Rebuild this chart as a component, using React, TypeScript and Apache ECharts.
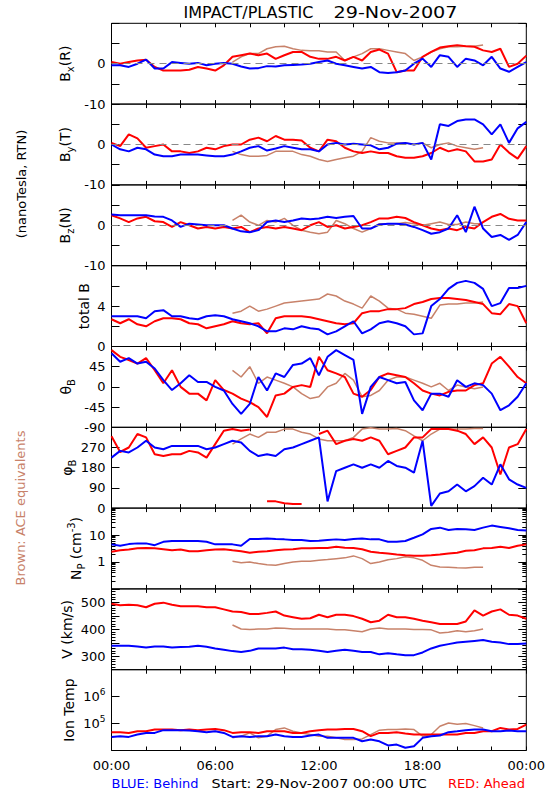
import React, { useEffect, useRef } from "react";
import * as echarts from "echarts";

const FONT = "DejaVu Sans";
const STEP = 0.5; // hours between samples
const ACE_START = 7; // hour at which ACE (brown) samples begin

const BLUE = "#0000ff";
const RED = "#ff0000";
const BROWN = "#c8826a";

const TIME_TICKS = [0, 6, 12, 18, 24];
const TIME_LABELS = ["00:00", "06:00", "12:00", "18:00", "00:00"];

// Bx(R)
const bxBlue = [-0.4,-0.4,-0.8,0,1.0,-1.2,-1.2,0.4,0.2,0,0.2,-0.4,0,0.2,0,-0.7,-1.2,-1.1,-0.6,-0.7,-0.4,-0.3,-0.2,0,0.4,0.8,0,-0.4,-0.8,-1.2,-0.8,-2.1,-2.3,-2.1,-1.7,0,1.25,-0.8,2.1,1.7,-0.8,1.25,0.8,-0.4,1.7,-1.2,-2.0,-0.8,0.4];
const bxRed = [0.4,0,0.4,0.8,1.0,-0.8,-1.7,-1.7,-1.7,-1.5,-0.8,-1.2,-1.7,-0.4,1.7,2.1,2.5,2.1,2.5,1.2,2.1,2.9,2.9,1.7,1.2,1.2,1.7,0.8,1.7,0.8,2.9,3.5,2.5,-2.1,-1.7,-1.7,1.7,2.9,4.0,4.3,4.6,4.3,4.2,3.3,2.9,3.7,-0.8,0,2.0];
const bxBrown = [0.4,1.7,2.5,2.5,3.7,4.2,4.3,3.7,3.3,3.2,3.2,2.9,2.9,0.8,1.7,2.5,3.7,3.7,3.3,2.9,2.5,0.8,1.7,2.9,3.7,4.2,4.2,4.3,4.3,4.6];

// By(T)
const byBlue = [0,-1.2,-1.7,-0.8,-1.2,-2.5,-2.9,-2.9,-2.5,-2.5,-2.5,-2.7,-2.9,-2.9,-2.5,-1.7,-0.8,-0.4,-1.5,-1.0,-0.4,-0.8,-1.2,-1.2,-1.7,0,0.4,0,0.2,0,-0.2,-1.2,-0.8,0.2,0.4,0,0.4,-3.7,5.0,4.6,5.8,6.2,6.2,5.0,2.5,5.0,0.4,4.0,5.6];
const byRed = [0.4,-0.4,2.5,1.5,-0.8,-0.4,0,-1.7,-1.7,-2.1,-1.7,-0.8,-1.2,-0.4,0,0,1.2,1.7,0.8,2.1,1.2,1.2,1.0,-0.8,-1.7,1.2,0.8,-0.8,-1.7,-2.1,-1.7,-2.1,-2.1,-2.9,-3.3,-3.3,-2.9,-2.1,-0.8,-1.7,-1.2,-1.7,-4.2,-4.2,-3.7,0,-2.0,-3.5,-0.4];
const byBrown = [-1.7,-2.5,-2.9,-2.9,-2.7,-1.7,-1.7,-1.7,-2.5,-2.9,-3.7,-4.2,-3.7,-3.3,-2.9,-1.7,1.7,0.8,0.4,0.4,0.4,0,0.4,-0.8,0,0.4,-0.4,-0.8,-1.2,-0.8];

// Bz(N)
const bzBlue = [2.7,2.5,2.5,2.5,2.5,2.2,2.1,1.2,-0.4,0.4,0.2,0,0,0,-0.8,-1.5,-1.7,-1.2,0.8,1.2,0.8,1.2,1.7,1.5,1.7,2.1,1.8,2.1,2.3,-0.8,-0.8,0.2,0.4,0.4,0.2,-0.4,-1.2,-2.1,-1.7,-0.8,2.5,-1.7,4.6,-0.8,-2.9,-2.4,-3.6,-2.4,0.8];
const bzRed = [2.5,1.7,0.8,1.7,2.1,1.0,0.8,-0.4,0.8,0,-0.8,-0.4,-0.8,-0.4,-0.8,-0.4,-1.7,-0.8,-0.4,-0.8,-0.4,-0.8,-1.2,0,0.8,-0.4,0,-0.8,-0.4,0,0.8,1.7,1.7,2.1,1.8,0.8,0,-0.8,-1.2,-0.8,-1.2,-0.4,-0.8,0.8,2.1,2.8,1.6,1.2,1.2];
const bzBrown = [1.2,2.5,0.8,0,1.2,0.8,1.7,0,-1.2,-1.7,-2.1,-1.7,1.2,0.4,-0.8,-1.7,-0.8,0.4,0.4,0.4,0.7,0.4,0,0.4,0.8,0.2,0.2,0.8,0.4,0.4];

// total B
const btBlue = [3.0,3.0,3.0,3.0,2.8,3.5,3.6,3.0,3.0,2.8,2.7,3.0,3.1,3.0,2.7,2.5,2.3,2.0,1.5,1.5,1.8,1.7,2.0,1.8,1.7,1.2,1.5,2.0,2.5,1.3,1.7,2.3,2.5,2.3,2.0,1.2,1.3,4.0,4.7,5.7,6.3,6.5,6.3,5.7,4.0,4.3,5.8,5.8,6.0];
const btRed = [2.7,2.3,2.7,2.2,2.0,2.5,2.8,2.8,2.7,2.3,2.2,1.8,2.0,2.2,2.5,2.3,2.2,2.3,1.3,2.8,3.0,3.0,3.0,2.9,2.7,2.5,2.3,2.2,2.3,3.3,3.5,3.5,3.7,3.7,3.8,4.2,4.4,4.7,4.8,4.8,4.7,4.6,4.4,4.2,3.3,3.2,4.2,4.0,2.3];
const btBrown = [3.3,3.5,4.0,3.5,3.7,4.0,4.3,4.4,4.5,4.6,4.7,5.2,5.0,4.5,4.2,3.8,5.0,4.5,3.8,3.7,3.3,3.2,3.0,2.8,4.1,4.2,4.2,4.3,4.3,4.4];

// theta B
const thBlue = [75,56,64,52,56,41,15,-7,8,26,11,11,0,-8,-38,-60,-38,22,-8,30,22,49,52,64,26,67,82,71,60,-60,0,22,15,8,11,-30,-52,-15,-15,-22,15,0,8,4,-15,-52,-41,-22,8];
const thRed = [82,67,60,52,64,37,8,37,0,-15,-15,-30,15,-7,-15,-26,-34,-45,-67,-19,-15,0,4,0,67,37,30,22,-15,-22,-7,22,30,26,22,8,-8,-15,-19,-11,-8,-8,4,8,52,67,45,22,8];
const thBrown = [37,22,45,8,22,15,8,0,-15,-26,-22,0,8,30,15,-22,-19,-8,15,22,22,15,8,0,8,-8,4,0,-4,0];

// phi B (null = gap where the angle wraps between 360 and 0)
const phBlue = [225,255,248,270,300,270,262,277,277,277,277,262,270,285,300,292,255,232,240,232,262,270,285,300,315,30,165,180,195,180,195,180,210,188,180,158,300,10,65,75,105,75,98,135,105,195,128,105,90];
const phRed = [320,250,270,330,315,240,232,240,240,255,248,225,285,345,352,345,350,null,30,30,22,18,18,null,330,345,285,300,308,300,315,300,240,255,270,315,315,352,352,352,345,330,285,315,270,150,270,285,352];
const phBrown = [285,308,330,315,338,338,352,352,338,330,308,300,300,300,315,352,358,352,352,355,345,322,300,330,352,352,352,352,355,355];

// Np (cm^-3)
const npBlue = [4.5,4.0,4.6,4.9,4.9,4.2,5.6,6.0,6.0,6.0,6.0,5.6,4.5,4.5,4.5,4.0,7.1,7.1,7.5,7.1,6.9,6.5,6.5,6.0,6.1,6.5,6.9,6.5,7.1,7.5,6.9,6.9,5.6,5.6,6.0,7.9,10.6,16.8,18.8,15.4,16.8,16.3,15.4,18.8,22.4,20,17.8,15.4,14.6];
const npRed = [2.4,2.7,2.9,3.2,3.3,3.2,2.95,2.7,2.9,2.5,2.5,2.7,2.9,2.95,2.7,2.5,2.2,2.4,2.5,2.7,2.9,2.95,3.2,3.2,3.3,3.3,3.65,3.4,3.3,2.95,2.4,2.2,2.05,1.9,1.78,1.7,1.7,1.78,1.9,2.05,2.2,2.6,2.7,3.2,3.3,3.65,3.3,4.0,4.5];
const npBrown = [1.06,0.94,1.0,0.87,0.79,0.75,0.87,1.0,1.06,1.06,1.15,1.23,1.33,1.42,1.68,1.33,0.87,1.0,1.2,1.33,1.55,1.42,1.15,0.75,0.65,0.63,0.61,0.6,0.63,0.63];

// V (km/s)
const vBlue = [339,339,339,336,332,336,336,332,334,335,339,335,329,324,319,316,320,329,329,329,332,326,326,324,320,316,320,324,320,316,316,307,311,307,304,304,314,329,339,345,351,354,357,360,354,351,345,345,347];
const vRed = [495,489,491,489,482,495,499,491,486,486,486,482,482,474,466,464,457,457,461,466,451,445,439,441,454,445,454,454,449,439,426,432,454,445,445,439,432,426,420,420,420,429,470,451,466,474,454,451,439];
const vBrown = [416,401,399,401,401,405,404,401,401,401,401,401,398,398,395,391,401,405,401,401,401,399,399,398,386,389,395,391,395,401];

// Ion temperature (K)
const tBlue = [32000,34000,32000,39000,45000,45000,57000,57000,57000,55000,52000,48000,52000,45000,32000,34000,32000,34000,34000,39000,34000,32000,32000,36000,39000,29500,29500,29500,29500,22000,25500,22000,15400,16600,12600,14400,29500,34000,36000,48000,52000,57000,60000,60000,52000,52000,55000,52000,52000];
const tRed = [48000,48000,45000,52000,52000,60000,60000,60000,57000,60000,57000,60000,63000,57000,45000,48000,48000,45000,52000,52000,52000,45000,45000,52000,57000,60000,60000,63000,63000,52000,34000,45000,45000,48000,43000,39000,39000,39000,39000,39000,39000,45000,45000,52000,52000,69000,60000,63000,92000];
const tBrown = [29500,34000,45000,29500,34000,60000,69000,52000,45000,39000,34000,34000,29500,25500,25500,27000,39000,57000,60000,60000,63000,60000,34000,39000,80000,105000,95000,100000,84000,69000];

// Layout
const PLOT_LEFT = 111.5;
const PLOT_W = 414.8;
const PLOT_TOP = 23.3;
const PANEL_H = 80.8;

const logMinor = (decades: number[]) => {
  const out: number[] = [];
  decades.forEach((d) => { for (let m = 2; m <= 9; m++) out.push(+(m * d).toPrecision(3)); });
  return out;
};

const NAME_RICH = {
  n: { fontSize: 14, fontFamily: FONT, lineHeight: 20, verticalAlign: "middle", fill: "#000" },
  sub: { fontSize: 10, fontFamily: FONT, lineHeight: 10, verticalAlign: "bottom", fill: "#000" },
  sup: { fontSize: 10, fontFamily: FONT, lineHeight: 10, verticalAlign: "top", fill: "#000" },
};

const LABEL_RICH = {
  b: { fontSize: 13, fontFamily: FONT, color: "#000", lineHeight: 18, verticalAlign: "middle" },
  s: { fontSize: 9, fontFamily: FONT, color: "#000", lineHeight: 9, verticalAlign: "top" },
};

type Panel = {
  name: string;
  nameX: number;
  blue: (number | null)[];
  red: (number | null)[];
  brown: (number | null)[];
  type: "value" | "log";
  min: number;
  max: number;
  interval?: number;
  majors?: number[];
  labels: number[];
  fmt?: (v: number) => string;
  zero?: boolean;
  minorSplit?: number;
  minorTicks?: number[];
};

const panels: Panel[] = [
  { name: "{n|B}{sub|x}{n|(R)}", nameX: 65, blue: bxBlue, red: bxRed, brown: bxBrown, type: "value", min: -10, max: 10, interval: 5, labels: [-10, 0], zero: true },
  { name: "{n|B}{sub|y}{n|(T)}", nameX: 65, blue: byBlue, red: byRed, brown: byBrown, type: "value", min: -10, max: 10, interval: 5, labels: [-10, 0], zero: true },
  { name: "{n|B}{sub|z}{n|(N)}", nameX: 65, blue: bzBlue, red: bzRed, brown: bzBrown, type: "value", min: -10, max: 10, interval: 5, labels: [-10, 0], zero: true },
  { name: "{n|total B}", nameX: 84, blue: btBlue, red: btRed, brown: btBrown, type: "value", min: 0, max: 8, interval: 2, labels: [0, 4] },
  { name: "{n|θ}{sub|B}", nameX: 66, blue: thBlue, red: thRed, brown: thBrown, type: "value", min: -90, max: 90, interval: 45, labels: [-90, -45, 0, 45] },
  { name: "{n|φ}{sub|B}", nameX: 67, blue: phBlue, red: phRed, brown: phBrown, type: "value", min: 0, max: 360, interval: 90, labels: [0, 90, 180, 270] },
  { name: "{n|N}{sub|P}{n| (cm}{sup|-3}{n|)}", nameX: 76, blue: npBlue, red: npRed, brown: npBrown, type: "log", min: 0.1, max: 100, majors: [0.1, 1, 10, 100], labels: [1, 10], minorTicks: logMinor([0.1, 1, 10]) },
  { name: "{n|V (km/s)}", nameX: 67, blue: vBlue, red: vRed, brown: vBrown, type: "value", min: 250, max: 550, interval: 50, labels: [300, 400, 500], minorSplit: 5 },
  { name: "{n|Ion Temp}", nameX: 69, blue: tBlue, red: tRed, brown: tBrown, type: "log", min: 1e4, max: 1e7, majors: [1e4, 1e5, 1e6, 1e7], labels: [1e5, 1e6], fmt: (v: number) => `{b|10}{s|${Math.round(Math.log10(v))}}` },
];

function buildOption() {
  const grids: any[] = [];
  const xAxes: any[] = [];
  const yAxes: any[] = [];
  const series: any[] = [];
  const graphic: any[] = [];

  panels.forEach((p, i) => {
    const top = PLOT_TOP + i * PANEL_H;
    grids.push({
      left: PLOT_LEFT, width: PLOT_W, top, height: PANEL_H,
      show: true, borderColor: "#000", borderWidth: 1, backgroundColor: "transparent",
      containLabel: false, outerBoundsMode: "none",
    });
    const xBase = {
      type: "value", gridIndex: i, min: 0, max: 24, interval: 2,
      axisLine: { show: false, onZero: false },
      splitLine: { show: false },
      axisTick: { show: true, inside: true, length: 4, lineStyle: { color: "#000", width: 1 } },
    };
    const isLast = i === panels.length - 1;
    xAxes.push({
      ...xBase, position: "bottom",
      axisLabel: isLast
        ? { show: true, customValues: TIME_TICKS, formatter: (v: number) => TIME_LABELS[TIME_TICKS.indexOf(v)], margin: 8, fontSize: 13, fontFamily: FONT, color: "#000" }
        : { show: false },
    });
    xAxes.push({ ...xBase, position: "top", axisLabel: { show: false } });

    const yBase: any = {
      type: p.type, gridIndex: i, min: p.min, max: p.max,
      axisLine: { show: false, onZero: false },
      splitLine: { show: false },
      axisTick: { show: true, inside: true, length: 8, lineStyle: { color: "#000", width: 1 } },
      minorTick: p.minorSplit ? { show: true, splitNumber: p.minorSplit, length: 4, lineStyle: { color: "#000", width: 1 } } : { show: false },
    };
    if (p.interval) yBase.interval = p.interval;
    if (p.type === "log") { yBase.logBase = 10; yBase.axisTick.customValues = p.majors; }
    const leftIdx = yAxes.length;
    yAxes.push({
      ...yBase, position: "left",
      axisLabel: {
        show: true, customValues: p.labels,
        formatter: p.fmt ? p.fmt : (v: number) => String(v),
        margin: 6, fontSize: 13, fontFamily: FONT, color: "#000", rich: LABEL_RICH,
      },
    });
    yAxes.push({ ...yBase, position: "right", axisLabel: { show: false } });
    if (p.minorTicks) {
      ["left", "right"].forEach((pos) => {
        yAxes.push({
          type: "log", logBase: 10, gridIndex: i, min: p.min, max: p.max, position: pos,
          axisLine: { show: false, onZero: false }, splitLine: { show: false }, axisLabel: { show: false },
          axisTick: { show: true, inside: true, length: 4, customValues: p.minorTicks, lineStyle: { color: "#000", width: 1 } },
        });
      });
    }

    const mk = (vals: (number | null)[], start: number, color: string, width: number, z: number, extra: any = {}) => ({
      type: "line", xAxisIndex: 2 * i, yAxisIndex: leftIdx,
      data: vals.map((v, k) => [start + k * STEP, v == null ? "-" : v]),
      symbol: "none", showSymbol: false, clip: true, silent: true, z, connectNulls: false,
      lineStyle: { color, width }, itemStyle: { color },
      ...extra,
    });
    series.push(mk(p.brown, ACE_START, BROWN, 1.5, 2, p.zero ? {
      markLine: {
        silent: true, symbol: "none", label: { show: false },
        lineStyle: { color: "#888888", type: [7, 5], width: 1 },
        data: [{ yAxis: 0 }],
      },
    } : {}));
    series.push(mk(p.red, 0, RED, 2, 3));
    series.push(mk(p.blue, 0, BLUE, 2, 4));

    graphic.push({
      type: "text", x: p.nameX, y: top + PANEL_H / 2, rotation: Math.PI / 2,
      style: { text: p.name, rich: NAME_RICH, align: "center", verticalAlign: "middle", fill: "#000" },
    });
  });

  graphic.push(
    { type: "text", x: 183.5, y: 12.5, style: { text: "IMPACT/PLASTIC", font: `16px ${FONT}`, fill: "#000", align: "left", verticalAlign: "middle" } },
    { type: "text", x: 333.5, y: 12.5, scaleX: 1.2, style: { text: "29-Nov-2007", font: `16px ${FONT}`, fill: "#000", align: "left", verticalAlign: "middle" } },
    { type: "text", x: 21, y: 184, rotation: Math.PI / 2, style: { text: "(nanoTesla, RTN)", font: `13px ${FONT}`, fill: "#000", align: "center", verticalAlign: "middle" } },
    { type: "text", x: 20, y: 508, rotation: Math.PI / 2, style: { text: "Brown: ACE equivalents", font: `13px ${FONT}`, fill: BROWN, align: "center", verticalAlign: "middle" } },
    { type: "text", x: 111.5, y: 783, style: { text: "BLUE: Behind", font: `13px ${FONT}`, fill: BLUE, align: "left", verticalAlign: "middle" } },
    { type: "text", x: 211.6, y: 783, scaleX: 1.1, style: { text: "Start: 29-Nov-2007 00:00 UTC", font: `13px ${FONT}`, fill: "#000", align: "left", verticalAlign: "middle" } },
    { type: "text", x: 525, y: 783, style: { text: "RED: Ahead", font: `13px ${FONT}`, fill: RED, align: "right", verticalAlign: "middle" } },
  );

  return {
    animation: false,
    backgroundColor: "#ffffff",
    textStyle: { fontFamily: FONT, color: "#000" },
    grid: grids,
    xAxis: xAxes,
    yAxis: yAxes,
    series,
    graphic,
  };
}

export default function App() {
  const ref = useRef<HTMLDivElement>(null);
  useEffect(() => {
    if (!ref.current) return;
    const chart = echarts.init(ref.current, undefined, { renderer: "svg", width: 550, height: 800 });
    chart.setOption(buildOption() as any);
    return () => chart.dispose();
  }, []);
  return (
    <div
      ref={ref}
      style={{ position: "absolute", left: 0, top: 0, width: 550, height: 800, background: "#fff" }}
    />
  );
}
